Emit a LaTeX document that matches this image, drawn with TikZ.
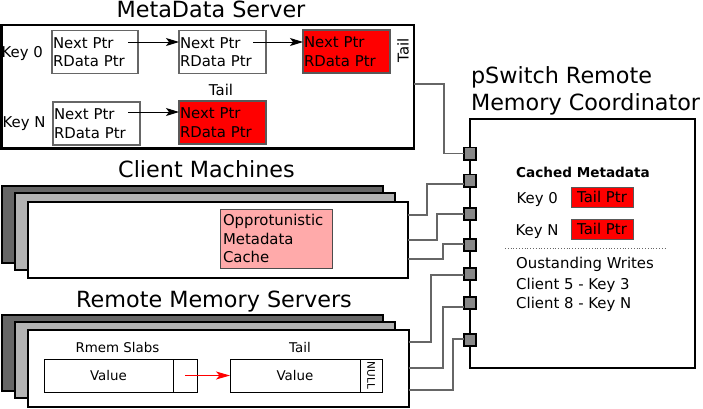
\documentclass[tikz,border=0pt]{standalone}
\usepackage{fontspec}
\setmainfont{DejaVu Sans}
\usetikzlibrary{arrows.meta,calc}
\newcommand\fT{\fontsize{22.3}{26}\selectfont}
\newcommand\fS{\fontsize{14.9}{18.4}\selectfont}
\newcommand\fR{\fontsize{13.4}{16}\selectfont}
\newcommand\fN{\fontsize{10.5}{12}\selectfont}
\newcommand\fB{\fontsize{13.6}{16}\selectfont\bfseries}
\definecolor{pred}{HTML}{FF0000}
\definecolor{ppink}{HTML}{FFAAAA}
\definecolor{dgray}{HTML}{666666}
\definecolor{lgray}{HTML}{B3B3B3}
\definecolor{pgray}{HTML}{888888}
\tikzset{
  every node/.style={outer sep=0pt},
  bigbox/.style={draw=black, line width=2.4pt, anchor=north west, inner sep=0pt},
  stk/.style={draw=black, line width=2pt, anchor=north west, inner sep=0pt},
  ptrbox/.style={draw=black!60, line width=1.2pt, fill=white, minimum height=43pt,
     inner xsep=1pt, inner ysep=0pt, align=left, anchor=north west, font=\fS},
  redptr/.style={ptrbox, fill=pred, draw=black!65},
  tailbox/.style={draw=black!65, line width=1pt, fill=pred, minimum width=62pt,
     minimum height=20pt, inner sep=0pt, font=\fS},
  valbox/.style={draw=black, line width=1pt, fill=white, minimum height=33pt,
     inner sep=0pt, anchor=north west, font=\fR},
  port/.style={draw=black, line width=1.6pt, fill=pgray, minimum size=12.4pt, inner sep=0pt},
  conn/.style={draw=black!60, line width=1.3pt},
  arr/.style={-{Stealth[length=13pt,width=8pt,inset=3pt]}, line width=1pt},
  redarr/.style={-{Stealth[length=14pt,width=8pt,inset=3.5pt]}, line width=0.9pt, draw=pred, color=pred},
  lbl/.style={font=\fS, anchor=base west, inner sep=0pt},
  ttl/.style={font=\fT, anchor=base, inner sep=0pt}
}
\begin{document}
\begin{tikzpicture}[x=1pt,y=-1pt]
\useasboundingbox (0,0) rectangle (703,408);

% ---------------- MetaData Server ----------------
\node[ttl] (tms) at (211,17) {MetaData Server};
\node[bigbox, minimum width=412.5pt, minimum height=123.5pt] (ms) at (1.5,25) {};
\node[lbl] (k0m) at (1.6,57) {Key 0};
\node[lbl] (knm) at (2.6,127) {Key N};
\node[ptrbox, text width=84pt] (m1) at (52,30.5) {Next Ptr\\RData Ptr};
\node[ptrbox, text width=85pt] (m2) at (179,30.5) {Next Ptr\\RData Ptr};
\node[redptr, text width=85pt] (m3) at (303,30) {Next Ptr\\RData Ptr};
\node[ptrbox, text width=85pt] (m4) at (53,102) {Next Ptr\\RData Ptr};
\node[redptr, text width=85pt] (m5) at (179,101) {Next Ptr\\RData Ptr};
\node[font=\fS, rotate=90, inner sep=0pt] (tl1) at (403,50) {Tail};
\node[font=\fS, anchor=base, inner sep=0pt] (tl2) at (221,95) {Tail};
\draw[arr] ($(m1.north west)+(76,11.5)$) -- ($(m2.north west)+(0,11.5)$);
\draw[arr] ($(m2.north west)+(74,11.5)$) -- ($(m3.north west)+(0,12)$);
\draw[arr] ($(m4.north west)+(75,10)$) -- ($(m5.north west)+(0,11)$);

% ---------------- Client Machines ----------------
\node[ttl] (tcm) at (206.5,177) {Client Machines};
\node[stk, fill=dgray, minimum width=381pt, minimum height=77pt] (cd) at (2,186) {};
\node[stk, fill=lgray, minimum width=380pt, minimum height=77pt] (cl) at (14.5,193) {};
\node[stk, fill=white, minimum width=380.5pt, minimum height=76.5pt] (cw) at (27.5,201.5) {};
\node[draw=black!70, line width=1pt, fill=ppink, text width=106pt, inner xsep=3pt,
      inner ysep=0pt, minimum height=59pt, anchor=north west, align=left, font=\fS]
      (opp) at (220,209) {Opprotunistic\\Metadata\\Cache};

% ---------------- Remote Memory Servers ----------------
\node[ttl] (trm) at (214,307) {Remote Memory Servers};
\node[stk, fill=dgray, minimum width=381pt, minimum height=76pt] (rd) at (2,315) {};
\node[stk, fill=lgray, minimum width=380pt, minimum height=76.5pt] (rl) at (14.5,321.5) {};
\node[stk, fill=white, minimum width=381pt, minimum height=76.5pt] (rw) at (27.5,330) {};
\node[font=\fR, anchor=base, inner sep=0pt] (rs) at (117.5,352) {Rmem Slabs};
\node[font=\fR, anchor=base, inner sep=0pt] (rt) at (300,352) {Tail};
\node[valbox, minimum width=129pt] (v1) at (44,359) {Value};
\node[valbox, minimum width=24pt] (v1p) at (173,359) {};
\node[valbox, minimum width=130pt] (v2) at (230,359) {Value};
\node[draw=black, line width=1pt, fill=white, rotate=-90, minimum width=33pt,
      minimum height=22pt, inner sep=0pt, font=\fN] (v2n) at (371,375.5) {NULL};
\draw[redarr] (v1p.center) -- (v2.west);

% ---------------- Coordinator ----------------
\node[font=\fT, anchor=base west, inner sep=0pt] (tc1) at (471,83) {pSwitch Remote};
\node[font=\fT, anchor=base west, inner sep=0pt] (tc2) at (471,110) {Memory Coordinator};
\node[draw=black, line width=2.2pt, anchor=north west, inner sep=0pt,
      minimum width=225pt, minimum height=249pt] (co) at (470,119) {};
\node[font=\fB, anchor=base, inner sep=0pt] (cmh) at (583,177) {Cached Metadata};
\node[lbl] (k0c) at (516.6,203) {Key 0};
\node[tailbox] (tp0) at (602,197) {Tail Ptr};
\node[lbl] (knc) at (515.6,235) {Key N};
\node[tailbox] (tpn) at (602,229) {Tail Ptr};
\draw[dotted, draw=black!60, line width=0.8pt] (505,248) -- (666,248);
\node[lbl] (ow) at (516.2,268) {Oustanding Writes};
\node[lbl] (c5) at (516.2,289) {Client 5 - Key 3};
\node[lbl] (c8) at (516.2,308) {Client 8 - Key N};

% ports
\node[port] (p1) at (470,153.5) {};
\node[port] (p2) at (470,180.5) {};
\node[port] (p3) at (470,214) {};
\node[port] (p4) at (470,245) {};
\node[port] (p5) at (470,274) {};
\node[port] (p6) at (470,303) {};
\node[port] (p7) at (470,340) {};

% connectors
\draw[conn] ($(ms.north east)+(0,59)$) -| ($(p1.west)+(-19.75,0)$) -- (p1.west);
\draw[conn] ($(cw.north east)+(0,13.5)$) -| ($(p2.west)+(-36.75,3.5)$) -- ($(p2.west)+(0,3.5)$);
\draw[conn] ($(cw.north east)+(0,38.5)$) -| ($(p3.west)+(-26.75,0)$) -- (p3.west);
\draw[conn] ($(cw.north east)+(0,57.5)$) -| ($(p4.west)+(-20.75,-1)$) -- ($(p4.west)+(0,-1)$);
\draw[conn] ($(rw.north east)+(0,12)$) -| ($(p5.west)+(-32.75,1)$) -- ($(p5.west)+(0,1)$);
\draw[conn] ($(rw.north east)+(0,38)$) -| ($(p6.west)+(-20.75,4)$) -- ($(p6.west)+(0,4)$);
\draw[conn] ($(rw.north east)+(0,60)$) -| ($(p7.west)+(-10.75,-1)$) -- ($(p7.west)+(0,-1)$);
\end{tikzpicture}
\end{document}
